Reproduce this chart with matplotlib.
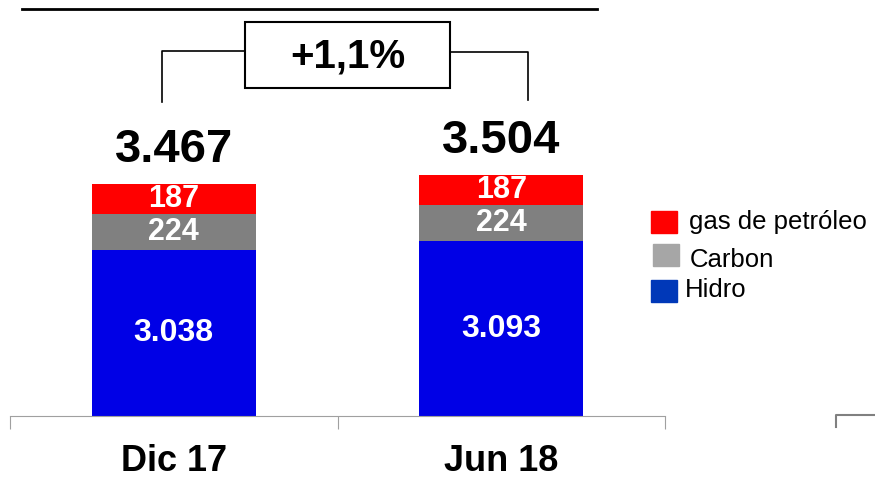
import matplotlib.pyplot as plt
from matplotlib.patches import Rectangle

plt.rcParams['font.family'] = ['Liberation Sans', 'DejaVu Sans']

# === DATA ===
periods = ['Dic 17', 'Jun 18']
hidro = [3038, 3093]
carbon = [224, 224]
gas = [187, 187]
totals = ['3.467', '3.504']
hidro_lbl = ['3.038', '3.093']
carbon_lbl = ['224', '224']
gas_lbl = ['187', '187']
change_lbl = '+1,1%'
series_names = ['gas de petróleo', 'Carbon', 'Hidro']

# === COLORS ===
bar_colors = {'hidro': '#0000E6', 'carbon': '#808080', 'gas': '#FF0000'}
legend_colors = ['#FF0000', '#A6A6A6', '#0038B8']

# === FIGURE ===
fig = plt.figure(figsize=(8.75, 4.8), dpi=100)
ax = fig.add_axes([10 / 875, 64 / 480, 655 / 875, 416 / 480])

x = [0, 1]
base = 2000  # value axis is cut, starts near 2.000
bottom_c = [h for h in hidro]
bottom_g = [h + c for h, c in zip(hidro, carbon)]

ax.bar(x, [h - base for h in hidro], bottom=base, width=0.5, color=bar_colors['hidro'])
ax.bar(x, carbon, bottom=bottom_c, width=0.5, color=bar_colors['carbon'])
ax.bar(x, gas, bottom=bottom_g, width=0.5, color=bar_colors['gas'])

for i in x:
    ax.text(i, (base + hidro[i]) / 2, hidro_lbl[i], ha='center', va='center',
            color='white', fontsize=23, fontweight='bold')
    ax.text(i, bottom_c[i] + carbon[i] / 2, carbon_lbl[i], ha='center', va='center',
            color='white', fontsize=22, fontweight='bold')
    ax.text(i, bottom_g[i] + gas[i] / 2, gas_lbl[i], ha='center', va='center',
            color='white', fontsize=22, fontweight='bold')
    ax.annotate(totals[i], (i, bottom_g[i] + gas[i]), xytext=(0, 9),
                textcoords='offset points', ha='center', va='bottom',
                fontsize=34, fontweight='bold')

ax.set_xlim(-0.5, 1.5)
ax.set_ylim(base, base + 416 / 0.16)
for s in ['top', 'right', 'left']:
    ax.spines[s].set_visible(False)
ax.spines['bottom'].set_color('#A0A0A0')
ax.set_yticks([])
ax.set_xticks([-0.5, 0.5, 1.5])
ax.set_xticklabels([])
ax.tick_params(axis='x', which='major', length=9, color='#A0A0A0', direction='out')
ax.set_xticks(x, minor=True)
ax.set_xticklabels(periods, minor=True, fontsize=26, fontweight='bold')
ax.tick_params(axis='x', which='minor', length=0, pad=20)

# === OVERLAY (bracket, box, legend) in pixel coords ===
ov = fig.add_axes([0, 0, 1, 1], zorder=5)
ov.set_xlim(0, 875)
ov.set_ylim(480, 0)
ov.axis('off')

ov.plot([22, 597], [9, 9], color='black', lw=2)
ov.plot([162, 162, 245], [102, 51, 51], color='black', lw=1.2)
ov.plot([450, 528, 528], [52, 52, 100], color='black', lw=1.2)
ov.add_patch(Rectangle((245, 22), 205, 66, fill=False, edgecolor='black', lw=1.5))
ov.text(348, 57, change_lbl, ha='center', va='center', fontsize=29, fontweight='bold')

# fragment of neighbouring axis at right edge
ov.plot([836, 836, 875], [427, 415, 415], color='#808080', lw=1.5)

leg_y = [222, 255, 291]
leg_x = [651, 653, 651]
leg_tx = [689, 690, 685]
leg_ty = [222, 260, 290]
for name, col, ly, lx, tx, ty in zip(series_names, legend_colors, leg_y, leg_x, leg_tx, leg_ty):
    ov.add_patch(Rectangle((lx, ly - 11), 26, 22, color=col))
    ov.text(tx, ty, name, ha='left', va='center', fontsize=18.5)

fig.savefig('out.png', dpi=100)
